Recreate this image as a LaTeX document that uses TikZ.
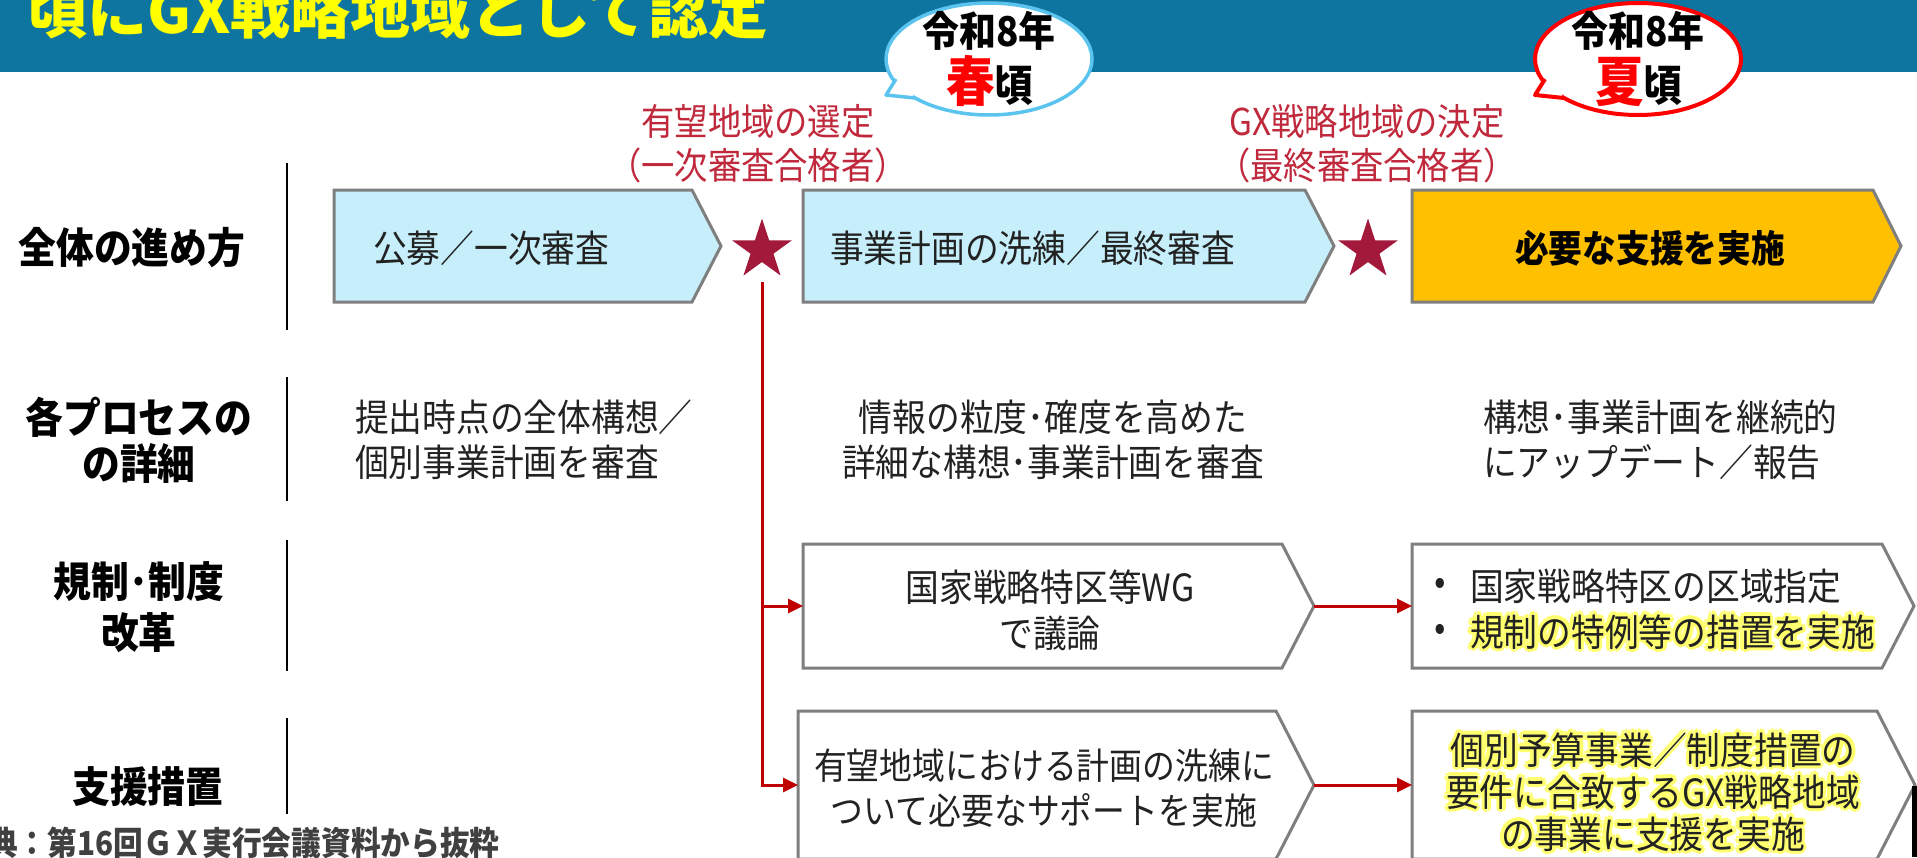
\documentclass[tikz,border=0pt]{standalone}
\usepackage{fontspec}
\setmainfont{Noto Sans CJK JP}[FakeStretch=0.9]
\newfontfamily\widefont{Noto Sans CJK JP}
\usetikzlibrary{arrows.meta,calc,shapes.geometric}
\definecolor{banner}{HTML}{0E75A0}
\definecolor{titley}{HTML}{FFFF00}
\definecolor{calloutblue}{HTML}{5BC4EE}
\definecolor{calloutred}{HTML}{FF0000}
\definecolor{labelred}{HTML}{C0283C}
\definecolor{starred}{HTML}{A3193B}
\definecolor{linered}{HTML}{C00000}
\definecolor{boxgray}{HTML}{7F7F7F}
\definecolor{lightblue}{HTML}{C6EFFB}
\definecolor{boxorange}{HTML}{FFC000}
\definecolor{txt}{HTML}{222222}
\definecolor{footgray}{HTML}{404040}
\definecolor{glowc}{RGB}{255,255,110}
\tikzset{
  chev/.style={draw=boxgray, line width=3pt, line join=miter},
  txtnode/.style={inner sep=0pt, text=txt, font=\fontsize{37.5}{45}\selectfont},
  lbl/.style={inner sep=0pt, text=black, font=\bfseries\fontsize{42}{46}\selectfont, align=center},
  redlbl/.style={inner sep=0pt, text=labelred, font=\fontsize{37}{44}\selectfont, align=center},
  redline/.style={draw=linered, line width=3pt},
  redarrow/.style={redline, -{Triangle[length=15pt,width=14pt]}},
  divider/.style={draw=black, line width=2pt},
  callouttext/.style={inner sep=0pt, text=black, font=\bfseries\fontsize{41}{44}\selectfont},
  starnode/.style={star, star points=5, star point ratio=2.618, fill=starred, minimum size=63pt, inner sep=0pt},
}
\newcommand{\glownode}[4]{%
  \foreach \ga in {0,45,...,315}{%
    \node[#3, text=glowc] (#1-g\ga) at ($(#2)+(\ga:3.5)$) {#4};
  }%
  \node[#3] (#1) at (#2) {#4};%
}
\begin{document}
\begin{tikzpicture}[x=1pt,y=-1pt]
\useasboundingbox (0,0) rectangle (1917,857);
\clip (0,0) rectangle (1917,857);
\fill[white] (0,0) rectangle (1917,857);
% banner
\fill[banner] (0,0) rectangle (1917,72);
\node[anchor=base west, inner sep=0pt, text=titley, font=\widefont\bfseries\fontsize{60}{60}\selectfont] (title) at (27,33) {頃にGX戦略地域として認定};

% callout 1
\draw[fill=white, draw=calloutblue, line width=3.5pt] (989,59) ellipse [x radius=103pt, y radius=56pt];
\fill[white] (895,80) -- (886,95) -- (914,97) -- (908,86) -- cycle;
\draw[calloutblue, line width=3.5pt, line join=round] (896,79) -- (886,95) -- (915,98);
\node[callouttext] (c1a) at (989,31) {令和8年};
\node[inner sep=0pt, anchor=base] (c1b) at (990,101) {\bfseries\fontsize{54}{54}\selectfont\textcolor{red}{春}\fontsize{43}{43}\selectfont 頃};

% callout 2
\draw[fill=white, draw=calloutred, line width=4pt] (1638,59) ellipse [x radius=103pt, y radius=56pt];
\fill[white] (1544,80) -- (1535,95) -- (1563,97) -- (1557,86) -- cycle;
\draw[calloutred, line width=4pt, line join=round] (1545,79) -- (1535,95) -- (1564,98);
\node[callouttext] (c2a) at (1638,31) {令和8年};
\node[inner sep=0pt, anchor=base] (c2b) at (1639,101) {\bfseries\fontsize{54}{54}\selectfont\textcolor{red}{夏}\fontsize{43}{43}\selectfont 頃};

% red milestone labels
\node[redlbl] (sel1) at (758,144) {有望地域の選定\\（一次審査合格者）};
\node[redlbl] (sel2) at (1367,144) {GX戦略地域の決定\\（最終審査合格者）};

% left labels
\node[lbl] (l1) at (132,248) {全体の進め方};
\node[lbl] (l2) at (139,440) {各プロセスの\\の詳細};
\node[lbl, font=\bfseries\fontsize{42}{51}\selectfont] (l3) at (139,607) {規制･制度\\改革};
\node[lbl] (l4) at (148,787) {支援措置};

% dividers
\draw[divider] (287,163) -- (287,330);
\draw[divider] (287,377) -- (287,501);
\draw[divider] (287,540) -- (287,671);
\draw[divider] (287,718) -- (287,814);

% row 1
\draw[chev, fill=lightblue] (334,190) -- (692,190) -- (721,246) -- (692,302) -- (334,302) -- cycle;
\node[txtnode, anchor=west] (b1) at (373,248) {公募／一次審査};
\node[starnode] (s1) at (762,250) {};
\draw[chev, fill=lightblue] (803,190) -- (1305,190) -- (1334,246) -- (1305,302) -- (803,302) -- cycle;
\node[txtnode, anchor=west] (b2) at (830,248) {事業計画の洗練／最終審査};
\node[starnode] (s2) at (1368,250) {};
\draw[chev, fill=boxorange] (1412,190) -- (1873,190) -- (1901,246) -- (1873,302) -- (1412,302) -- cycle;
\node[txtnode, text=black, font=\bfseries\fontsize{37.5}{40}\selectfont] (b3) at (1650,248) {必要な支援を実施};

% row 2
\node[txtnode, anchor=west, align=left] (d1) at (355,440) {提出時点の全体構想／\\個別事業計画を審査};
\node[txtnode, align=center] (d2) at (1053,440) {情報の粒度･確度を高めた\\詳細な構想･事業計画を審査};
\node[txtnode, anchor=west, align=left] (d3) at (1483,440) {構想･事業計画を継続的\\にアップデート／報告};

% row 3
\draw[chev, fill=white] (803,544) -- (1282,544) -- (1314,606) -- (1282,668) -- (803,668) -- cycle;
\coordinate (r3aw) at (803,606);
\coordinate (r3atip) at (1314,606);
\node[txtnode, align=center, font=\fontsize{37.5}{46}\selectfont] (r3a) at (1050,610) {国家戦略特区等WG\\で議論};
\draw[chev, fill=white] (1412,544) -- (1882,544) -- (1914,606) -- (1882,668) -- (1412,668) -- cycle;
\coordinate (r3bw) at (1412,606);
\node[txtnode] (bul1) at (1440,586) {•};
\node[txtnode, anchor=west] (r3b1) at (1470,586) {国家戦略特区の区域指定};
\node[txtnode] (bul2) at (1440,632) {•};
\glownode{r3b2}{1470,632}{txtnode, anchor=west}{規制の特例等の措置を実施}

% row 4
\draw[chev, fill=white] (798,711) -- (1276,711) -- (1314,785) -- (1276,859) -- (798,859) -- cycle;
\coordinate (r4aw) at (798,785);
\coordinate (r4atip) at (1314,785);
\node[txtnode, align=center, font=\fontsize{36.5}{45}\selectfont] (r4a) at (1044,788) {有望地域における計画の洗練に\\ついて必要なサポートを実施};
\draw[chev, fill=white] (1412,711) -- (1877,711) -- (1915,785) -- (1877,859) -- (1412,859) -- cycle;
\coordinate (r4bw) at (1412,785);
\glownode{r4b}{1653,792}{txtnode, align=center, font=\fontsize{37.5}{42}\selectfont}{個別予算事業／制度措置の\\要件に合致するGX戦略地域\\の事業に支援を実施}

% connectors
\coordinate (trunk) at (762,282);
\draw[redarrow] (trunk) |- (r4aw);
\draw[redarrow] (trunk |- r3aw) -- (r3aw);
\draw[redarrow] (r3atip) -- (r3bw);
\draw[redarrow] (r4atip) -- (r4bw);

% source note
\node[anchor=west, inner sep=0pt, text=footgray, font=\bfseries\fontsize{33}{34}\selectfont] (src) at (-12,843) {典：第16回ＧＸ実行会議資料から抜粋};

% right edge mark
\fill[black] (1912,786) rectangle (1917,857);
\end{tikzpicture}
\end{document}
